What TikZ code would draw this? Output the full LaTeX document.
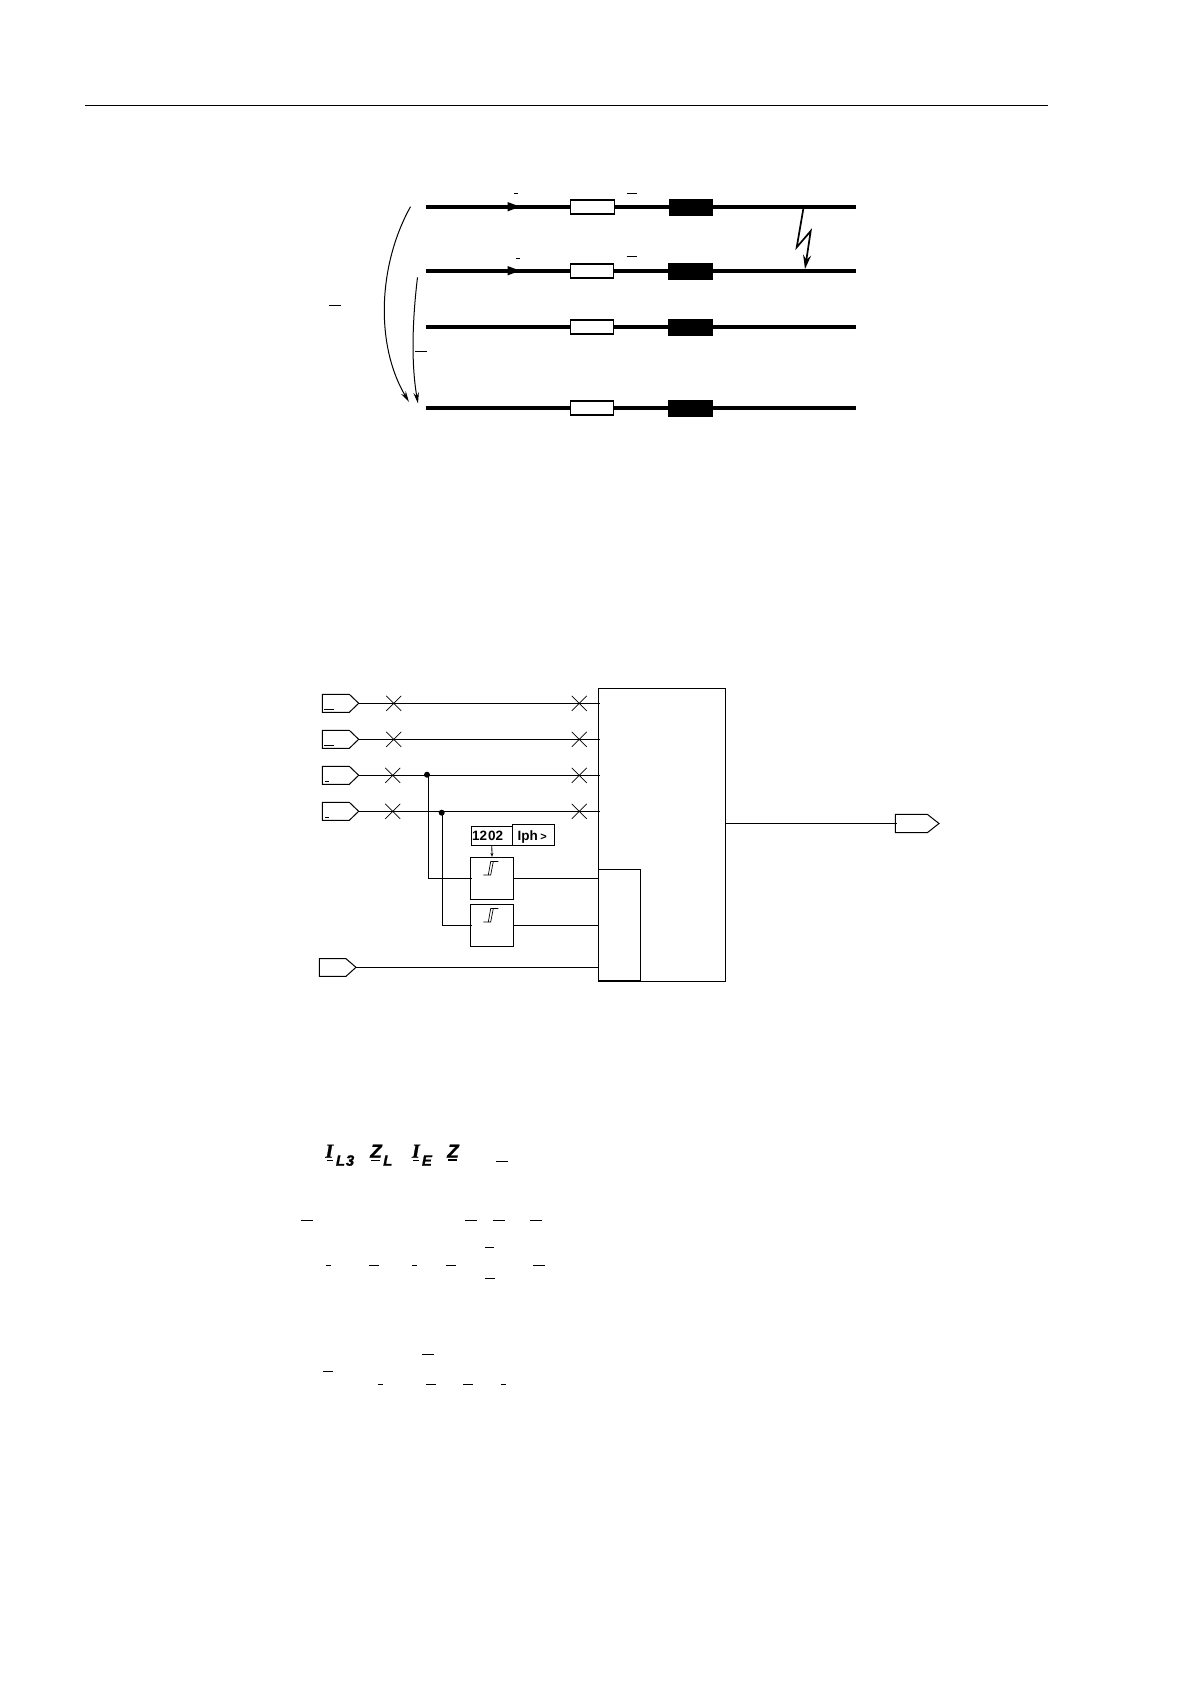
\documentclass[tikz,border=0pt]{standalone}
\usepackage{fontspec}
\setmainfont{Liberation Sans}
\newfontfamily\heavyital{Liberation Sans}[UprightFont={* Bold Italic},UprightFeatures={FakeBold=1.2}]
\newfontfamily\serifital{Liberation Serif}[UprightFont={* Bold Italic},UprightFeatures={FakeBold=1.2}]
\usetikzlibrary{arrows.meta}
\tikzset{
  thin line/.style={line width=1pt,black},
  bus/.style={line width=3.7pt,black},
  res/.style={draw=black,line width=1.4pt,fill=white,inner sep=0pt,minimum width=43pt,minimum height=14pt},
  ind/.style={draw=black,line width=0.5pt,fill=black,inner sep=0pt,minimum width=43pt,minimum height=15.5pt},
  lbox/.style={draw=black,line width=1pt,fill=white,inner sep=0pt},
  dashmark/.style={line width=0.9pt,black},
  crossmark/.style={line width=0.7pt,black},
  jdot/.style={circle,fill=black,inner sep=0pt,minimum size=6pt},
  pent/.style={line width=1pt,black},
  fbig/.style={font=\fontsize{19}{21}\selectfont\heavyital,inner sep=0pt,anchor=base west},
  fser/.style={font=\fontsize{20}{22}\selectfont\serifital,inner sep=0pt,anchor=base west},
  fsub/.style={font=\fontsize{15}{17}\selectfont\heavyital,inner sep=0pt,anchor=base west},
  flab/.style={font=\fontsize{13.5}{15}\selectfont\rmfamily\bfseries,inner sep=0pt,anchor=base west},
}
\begin{document}
\begin{tikzpicture}[x=1pt,y=-1pt]
\useasboundingbox (0,0) rectangle (1190,1682);
\fill[white] (0,0) rectangle (1190,1682);
% header rule
\coordinate (ruleA) at (85,105.5); \coordinate (ruleB) at (1048,105.5);
\draw[line width=0.9pt] (ruleA) -- (ruleB);
% ---- upper diagram: buses
\foreach \n/\y in {a/206.7,b/270.7,c/327,d/407.7}{
  \coordinate (bus\n W) at (426,\y);
  \coordinate (bus\n E) at (856,\y);
  \draw[bus] (bus\n W) -- (bus\n E);
}
\node[res,minimum width=44pt] (ra) at (592.5,207) {};
\node[res] (rb) at (591.8,271) {};
\node[res] (rc) at (591.8,327) {};
\node[res] (rd) at (591.8,407.8) {};
\node[ind] (ia) at (691,207) {};
\node[ind,minimum width=44pt] (ib) at (690.4,271) {};
\node[ind,minimum width=44pt] (ic) at (690.4,327) {};
\node[ind,minimum width=44pt] (id) at (690.4,408) {};
% current arrows on the buses
\fill (507.6,202) -- (520,206.7) -- (507.6,211.4) -- cycle;
\fill (507.6,266) -- (520,270.7) -- (507.6,275.4) -- cycle;
% fault bolt
\coordinate (boltA) at (803.3,209);
\coordinate (boltB) at (805,269);
\draw[line width=1.7pt,-{Stealth[length=14pt,width=8pt]}] (boltA) -- (796.7,247.3) -- (810.7,231) -- (boltB);
% loop curves
\coordinate (curveA) at (410.5,206.7);
\coordinate (curveAe) at (409,402);
\coordinate (curveB) at (417.5,277.3);
\coordinate (curveBe) at (418,403.5);
\draw[thin line,-{Stealth[length=11pt,width=5.5pt]}] (curveA) .. controls (378,265) and (375,345) .. (curveAe);
\draw[thin line,-{Stealth[length=11pt,width=5.5pt]}] (curveB) .. controls (413,315) and (410.5,360) .. (curveBe);
% underscores of the upper diagram
\foreach \a/\b/\y in {514/518.3/193.3, 626.6/636.5/193.3, 515.7/520/258.3, 626.6/636.5/256.3, 328.8/340.6/305.3, 414.9/426.7/351.3}{
  \draw[dashmark] (\a,\y) -- (\b,\y);
}
% ---- logic diagram: main blocks
\node[lbox,minimum width=127.4pt,minimum height=293pt] (main) at (662,834.8) {};
\node[lbox,minimum width=42pt,minimum height=111.4pt] (inner) at (619.3,925) {};
\draw[line width=1.8pt] (inner.south west) -- (inner.south east);
\node[lbox,minimum width=43.4pt,minimum height=42.4pt] (hyA) at (492,878.5) {};
\node[lbox,minimum width=43.4pt,minimum height=42.4pt] (hyB) at (492,925.5) {};
\node[lbox,minimum width=41pt,minimum height=19pt] (setA) at (491.8,835.8) {};
\node[lbox,minimum width=42.4pt,minimum height=21pt] (setB) at (533.5,834.8) {};
\node[flab] (setAt) at (471.8,840.3) {12\kern1pt 02};
\node[flab] (setBt) at (517.5,840.3) {Iph\kern2.5pt{\fontsize{11}{12}\selectfont >}};
\draw[line width=0.8pt,-{Stealth[length=4pt,width=3pt]}] (setA.south) -- (hyA.north);
% hysteresis symbols
\foreach \n in {hyA,hyB}{
  \draw[line width=0.7pt] ([shift={(-8.7,-3.5)}]\n.center) -- ([shift={(-3.7,-3.5)}]\n.center) -- ([shift={(-1.3,-17)}]\n.center) -- ([shift={(6.3,-17)}]\n.center);
  \draw[line width=0.7pt] ([shift={(-3.7,-3.5)}]\n.center) -- ([shift={(-1.3,-3.5)}]\n.center) -- ([shift={(1.3,-17)}]\n.center);
}
% input pentagons and their lines
\foreach \n/\y/\a/\b in {p/703.3/324/334, q/739.3/324/334, r/775.3/325.3/328.7, s/811.3/325.3/328.7}{
  \draw[pent] (322.3,\y+9.5) -- (322.3,\y-9) -- (349.3,\y-9) -- (358.7,\y) -- (349.3,\y+9) -- (322.3,\y+9);
  \coordinate (tip\n) at (358.7,\y);
  \coordinate (end\n) at (599.5,\y);
  \draw[thin line] (tip\n) -- (end\n);
  \draw[dashmark] (\a,\y+5.8) -- (\b,\y+5.8);
}
\foreach \x/\y in {393.7/703.3,393.7/739.3,392.7/775.3,392.7/811.3,579.3/703.3,579.3/739.3,579.3/775.3,579.3/811.3}{
  \draw[crossmark] (\x-7.5,\y-7.5) -- (\x+7.5,\y+7.5) (\x-7.5,\y+7.5) -- (\x+7.5,\y-7.5);
}
% branches
\node[jdot] (dotA) at (427,774.7) {};
\node[jdot] (dotB) at (441.7,812.7) {};
\coordinate (hyAin) at (471.5,878.5);
\coordinate (hyBin) at (471.5,925.5);
\draw[thin line] (428.6,775) |- (hyAin);
\draw[thin line] (442.7,812.7) |- (hyBin);
\draw[thin line] (hyA.east) -- (hyA.east -| main.west);
\draw[thin line] (hyB.east) -- (hyB.east -| main.west);
% fifth input
\draw[pent] (319.3,958.7) -- (346,958.7) -- (356,967.3) -- (346,976.3) -- (319.3,976.3) -- cycle;
\coordinate (tipt) at (356,967.3);
\draw[thin line] (tipt) -- (tipt -| main.west);
% output
\coordinate (outL) at (896.7,823.3);
\draw[thin line] (main.east |- outL) -- (outL);
\draw[pent] (895.3,833.2) -- (895.3,814.3) -- (927.3,814.3) -- (939,823.5) -- (927.3,832.7) -- (895.3,832.7);
% ---- formula
\node[fser] (f1) at (325.2,1157.7) {I};
\node[fsub] (f2) at (335.7,1165.7) {L\kern0.8pt3};
\node[fbig] (f3) at (370,1157.7) {Z};
\node[fsub] (f4) at (383,1165.7) {L};
\node[fser] (f5) at (411.8,1157.7) {I};
\node[fsub] (f6) at (421.7,1165.7) {E};
\node[fbig] (f7) at (447,1157.7) {Z};
\foreach \a/\b/\y in {326.7/332.7/1160.3, 371/380/1160.3, 413/418.7/1160.3, 448/456.7/1159.3, 448/456.7/1160.7,
  496/508/1161.3, 301/313/1220, 465/477/1220, 493/505/1220, 530/542/1220,
  485/493.7/1247.3, 326/331/1265.3, 369.3/379/1265.3, 412/417/1265.3, 446/455.7/1265.3, 533/545/1265.3,
  485/495/1278, 422/434/1354.3, 323.3/333/1371, 378/382.7/1384, 426/436/1384, 463/473/1384, 501/506/1384}{
  \draw[dashmark] (\a,\y) -- (\b,\y);
}
\end{tikzpicture}
\end{document}
